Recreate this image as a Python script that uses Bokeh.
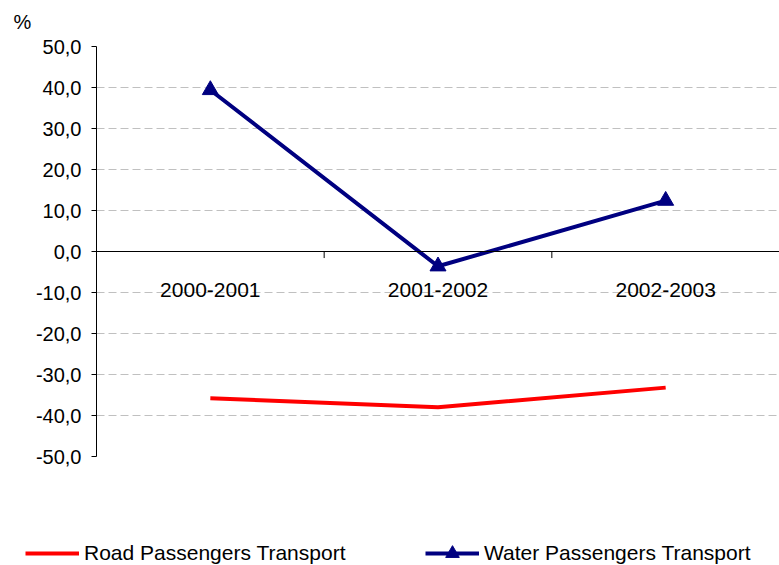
from bokeh.plotting import figure
from bokeh.layouts import column
from bokeh.models import (Range1d, FixedTicker, Span, Legend, LegendItem, Label)
from bokeh.core.properties import value
from bokeh.embed import file_html
from bokeh.resources import INLINE

categories = ["2000-2001", "2001-2002", "2002-2003"]
road = [-35.8, -38.0, -33.2]
water = [39.4, -3.6, 12.4]
y_ticks = [-50, -40, -30, -20, -10, 0, 10, 20, 30, 40, 50]
y_labels = ["-50,0", "-40,0", "-30,0", "-20,0", "-10,0", "0,0",
            "10,0", "20,0", "30,0", "40,0", "50,0"]
series_names = ["Road Passengers Transport", "Water Passengers Transport"]
unit_label = "%"

FONT = "Liberation Sans"
ROAD_COLOR = "#ff0000"
WATER_COLOR = "#000080"

xs = [i + 0.5 for i in range(len(categories))]
bounds = [i + 1 for i in range(len(categories))]


def strip(height):
    f = figure(width=779, height=height, output_backend="svg", toolbar_location=None,
               x_range=Range1d(100, 101), y_range=Range1d(100, 101),
               x_axis_location=None, y_axis_location=None,
               min_border_left=0, min_border_right=0, min_border_top=0,
               min_border_bottom=0)
    f.frame_align = False
    f.outline_line_color = None
    f.xgrid.visible = False
    f.ygrid.visible = False
    return f


# unit label strip above the chart
tp = strip(34)
tp.add_layout(Label(x=13, y=13, x_units="screen", y_units="screen", text=unit_label,
                    text_font=FONT, text_font_size="20px", text_baseline="middle",
                    text_color="#000000"))

p = figure(width=779, height=486, output_backend="svg", toolbar_location=None,
           x_range=Range1d(0, len(categories)), y_range=Range1d(-50, 50),
           x_axis_location=None,
           min_border_left=96, min_border_right=0, min_border_top=12,
           min_border_bottom=64)
p.frame_align = False
p.outline_line_color = None
p.xgrid.visible = False

p.ygrid.ticker = FixedTicker(ticks=y_ticks)
p.ygrid.grid_line_color = "#c0c0c0"
p.ygrid.grid_line_dash = "8 4"
p.ygrid.grid_line_width = 1

ya = p.yaxis[0]
ya.ticker = FixedTicker(ticks=y_ticks)
ya.major_label_overrides = {t: l for t, l in zip(y_ticks, y_labels)}
ya.major_tick_in = 0
ya.major_tick_out = 5
ya.minor_tick_line_color = None
ya.axis_line_color = "#000000"
ya.major_tick_line_color = "#000000"
ya.major_label_text_font = FONT
ya.major_label_text_font_size = "20px"
ya.major_label_text_color = "#000000"
ya.major_label_standoff = 10

# category axis crossing at zero
p.add_layout(Span(location=0, dimension="width", line_color="#000000", line_width=1))
p.segment(x0=bounds, x1=bounds, y0=[0] * len(bounds), y1=[-1.6] * len(bounds),
          line_color="#000000", line_width=1)
p.text(x=xs, y=[-9.5] * len(xs), text=categories, text_font=value(FONT),
       text_font_size="21px", text_align="center", text_baseline="middle",
       text_color="#000000")

p.line(xs, road, line_color=ROAD_COLOR, line_width=4)
p.line(xs, water, line_color=WATER_COLOR, line_width=4)
p.scatter(xs, water, marker="triangle", size=16, fill_color=WATER_COLOR,
          line_color=WATER_COLOR)

# legend strip below the chart (same series, shown only as legend keys)
lp = strip(45)
l_road = lp.line(xs, road, line_color=ROAD_COLOR, line_width=4)
l_water = lp.line(xs, water, line_color=WATER_COLOR, line_width=4)
l_tri = lp.scatter(xs, water, marker="triangle", size=16, fill_color=WATER_COLOR,
                   line_color=WATER_COLOR)

legend = Legend(items=[
    LegendItem(label=series_names[0], renderers=[l_road]),
    LegendItem(label=series_names[1], renderers=[l_water, l_tri]),
], orientation="horizontal", location=(25, -5))
legend.padding = 0
legend.margin = 0
legend.spacing = 5
legend.glyph_width = 54
legend.glyph_height = 34
legend.label_standoff = 5
legend.label_width = 336
legend.label_text_font = FONT
legend.label_text_font_size = "21px"
legend.label_text_color = "#000000"
legend.border_line_color = None
legend.background_fill_alpha = 0
lp.add_layout(legend)

layout = column(tp, p, lp, spacing=0)
open("out.html", "w").write(file_html(layout, INLINE))
